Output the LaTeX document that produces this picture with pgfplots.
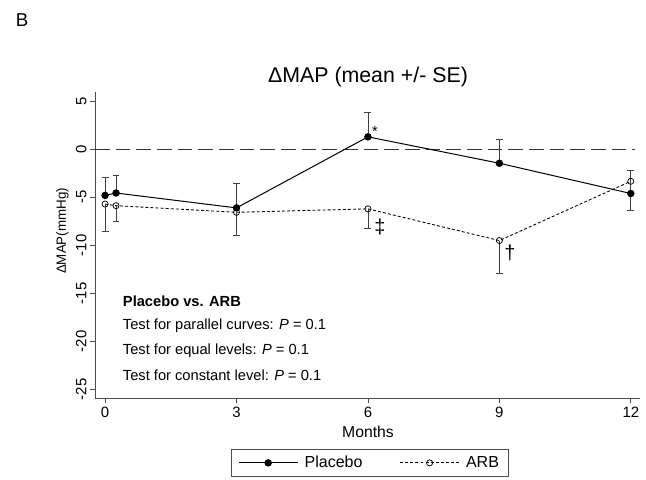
\documentclass[border=0pt]{standalone}
\usepackage{fontspec}
\setmainfont{Liberation Sans}
\usepackage{pgfplots}
\pgfplotsset{compat=1.18}
\begin{document}
\begin{tikzpicture}
\useasboundingbox (0,0) rectangle (484.5pt,359.25pt);
\begin{axis}[
  at={(71.25pt,60.75pt)}, anchor=south west,
  width=408.75pt, height=229.5pt, scale only axis,
  xmin=-0.23, xmax=12.21, ymin=-25.9, ymax=5.97,
  axis x line*=bottom, axis y line*=left,
  axis line style={draw=black!70, line width=0.6pt, -},
  xtick={0,3,6,9,12}, xticklabels={0,3,6,9,12},
  ytick={-25,-20,-15,-10,-5,0,5},
  yticklabels={-25,-20,-15,-10,-5,0,5},
  tick align=outside, major tick length=3.75pt,
  tick style={draw=black!70, line width=0.6pt},
  ticklabel style={font=\fontsize{11.2}{13}\selectfont},
  yticklabel style={rotate=90, anchor=south, inner sep=2.5pt},
  xticklabel style={inner sep=2.5pt},
  clip=false,
  legend columns=2,
  legend style={at={(0.5046,-0.1667)}, anchor=north, draw=black!70, line width=0.6pt,
    font=\fontsize{12}{14}\selectfont,
    /tikz/every odd column/.append style={column sep=3pt},
    /tikz/every even column/.append style={column sep=26pt},
    inner xsep=5pt, inner ysep=3pt},
  legend image code/.code={\draw[mark repeat=2,mark phase=2,#1] plot coordinates {(0pt,0pt) (22pt,0pt) (44pt,0pt)};},
]
\addplot[black!80, line width=0.6pt, dash pattern=on 11pt off 4.5pt, forget plot] coordinates {(-0.23,0) (12.1,0)};
\addplot[black, line width=0.75pt, mark=*, mark size=2.4pt, mark options={solid, fill=black},
  error bars/.cd, y dir=plus, y explicit,
  error bar style={black!75, line width=0.65pt},
  error mark options={rotate=90, black!75, mark size=2.6pt, line width=0.65pt}]
  table[x=x, y=y, y error=e] {
x y e
0 -4.8 1.9
0.25 -4.55 1.8
3 -6.1 2.5
6 1.3 2.5
9 -1.45 2.5
12 -4.6 2.44
};
\addlegendentry{Placebo}
\addplot[black, line width=0.65pt, dash pattern=on 2.2pt off 1.6pt, mark=o, mark size=2.3pt, mark options={solid, line width=0.55pt},
  error bars/.cd, y dir=minus, y explicit,
  error bar style={black!75, line width=0.65pt, solid},
  error mark options={rotate=90, black!75, mark size=2.6pt, line width=0.65pt, solid}]
  table[x=x, y=y, y error=e] {
x y e
0 -5.7 2.8
0.25 -5.87 1.6
3 -6.56 2.37
6 -6.2 2.0
9 -9.5 3.4
12 -3.33 3.07
};
\addlegendentry{ARB}
\end{axis}
\begin{scope}[x=0.75pt, y=-0.75pt, shift={(0pt,359.25pt)}]
\node[font=\fontsize{14}{16}\selectfont] at (22,20) {B};
\node[font=\fontsize{16}{18}\selectfont] at (368,77) {ΔMAP (mean +/- SE)};
\node[rotate=90, font=\fontsize{10}{12}\selectfont] at (62.5,231) {ΔMAP(mmHg)};
\node[font=\fontsize{11.8}{13}\selectfont] at (368,432) {Months};
\node[anchor=west, inner sep=0pt, font=\fontsize{11}{13}\selectfont] at (122.7,301.7) {\textbf{Placebo vs. ARB}};
\node[anchor=west, inner sep=0pt, font=\fontsize{11}{13}\selectfont] at (122.7,326) {Test for parallel curves: \textit{P} = 0.1};
\node[anchor=west, inner sep=0pt, font=\fontsize{11}{13}\selectfont] at (122.7,350.7) {Test for equal levels: \textit{P} = 0.1};
\node[anchor=west, inner sep=0pt, font=\fontsize{11}{13}\selectfont] at (122.7,375) {Test for constant level: \textit{P} = 0.1};
\node[font=\fontsize{11}{13}\selectfont] at (375,131) {*};
\node[font=\fontsize{15}{17}\selectfont] at (380,226.7) {‡};
\node[font=\fontsize{15}{17}\selectfont] at (510,253) {†};
\end{scope}
\end{tikzpicture}
\end{document}
